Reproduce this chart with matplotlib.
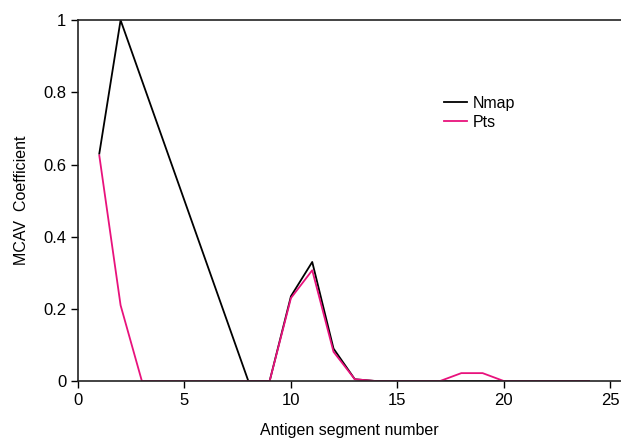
import matplotlib
matplotlib.use("Agg")
import matplotlib.pyplot as plt

# MCAV coefficient per antigen segment
nmap_x = [1, 2, 8, 9, 10, 11, 12, 13, 14, 15, 16, 17, 18, 19, 20, 21, 22, 23, 24]
nmap_y = [0.63, 1.0, 0.0, 0.0, 0.235, 0.33, 0.09, 0.005, 0, 0, 0, 0, 0, 0, 0, 0, 0, 0, 0]

pts_x = list(range(1, 25))
pts_y = [0.625, 0.21, 0, 0, 0, 0, 0, 0, 0, 0.23, 0.307, 0.081, 0.005, 0, 0, 0, 0,
         0.022, 0.022, 0, 0, 0, 0, 0]

xticks = [0, 5, 10, 15, 20, 25]
yticks = [0, 0.2, 0.4, 0.6, 0.8, 1]
ytick_labels = ["0", "0.2", "0.4", "0.6", "0.8", "1"]

plt.rcParams["font.family"] = ["Liberation Sans", "DejaVu Sans"]

fig = plt.figure(figsize=(6.21, 4.38), dpi=100)
ax = fig.add_axes([0.1256, 0.130, 0.8744, 0.824])

ax.plot(nmap_x, nmap_y, color="black", lw=1.3, label="Nmap")
ax.plot(pts_x, pts_y, color="#e8127c", lw=1.3, label="Pts")

ax.set_xlim(0, 25.5)
ax.set_ylim(0, 1)
ax.set_xticks(xticks)
ax.set_yticks(yticks)
ax.set_yticklabels(ytick_labels)
ax.tick_params(direction="out", length=5, width=1, labelsize=12, colors="black")
ax.spines["right"].set_visible(False)
for s in ["left", "bottom", "top"]:
    ax.spines[s].set_linewidth(1.2)
    ax.spines[s].set_color("#222222")

ax.set_xlabel("Antigen segment number", fontsize=11.5, labelpad=11)
ax.set_ylabel("MCAV  Coefficient", fontsize=11.5, labelpad=10)

ax.legend(loc="upper left", bbox_to_anchor=(0.648, 0.83), frameon=False,
          fontsize=11.5, handlelength=1.4, handletextpad=0.4, labelspacing=0.25)

fig.savefig("out.png", dpi=100)
